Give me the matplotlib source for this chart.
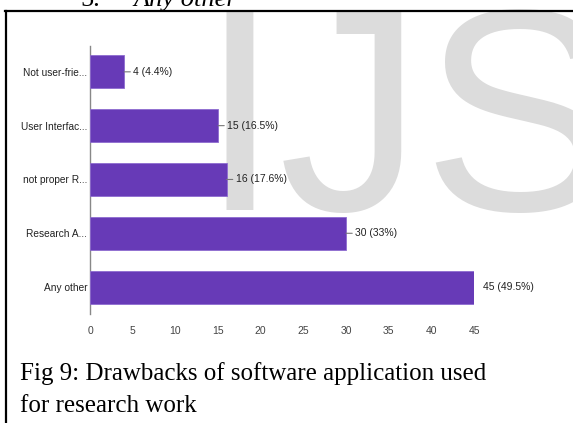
import matplotlib
matplotlib.use("Agg")
import matplotlib.pyplot as plt
from matplotlib.lines import Line2D

categories = ["Not user-frie...", "User Interfac...", "not proper R...", "Research A...", "Any other"]
counts = [4, 15, 16, 30, 45]
pct_labels = ["4 (4.4%)", "15 (16.5%)", "16 (17.6%)", "30 (33%)", "45 (49.5%)"]
xticks = [0, 5, 10, 15, 20, 25, 30, 35, 40, 45]

W, H = 573, 423
fig = plt.figure(figsize=(W / 100, H / 100), dpi=100)
fig.patch.set_facecolor("white")

SANS = ["Liberation Sans", "DejaVu Sans"]
SERIF = ["Liberation Serif", "DejaVu Serif"]

# watermark behind everything
fig.text(200 / W, 1 - 210 / H, "IJSER", fontsize=207, color="#dcdcdc",
         family=SANS, ha="left", va="baseline", zorder=-1)

# page border (left + top)
fig.add_artist(Line2D([5 / W, 1], [1 - 11 / H, 1 - 11 / H], color="black", lw=1.6))
fig.add_artist(Line2D([6 / W, 6 / W], [0, 1 - 11 / H], color="black", lw=1.6))

# clipped line of body text above the figure
fig.text(80 / W, 1 - 6 / H, "5.", fontsize=19, family=SERIF, ha="left", va="baseline")
fig.text(133 / W, 1 - 6 / H, "Any other", fontsize=19, family=SERIF, style="italic",
         ha="left", va="baseline")

ax = fig.add_axes([90 / W, 1 - 314 / H, (474 - 90) / W, (314 - 46) / H], zorder=1)
ax.patch.set_alpha(0)
y = list(range(len(categories)))
ax.barh(y, counts, height=0.61, color="#673ab7", edgecolor="#8e6bd0", lw=0.6, zorder=3)
ax.set_xlim(0, 45)
ax.set_ylim(4.5, -0.48)
ax.set_yticks(y)
ax.set_yticklabels(categories, family=SANS, fontsize=7.3, color="#222222")
ax.set_xticks(xticks)
ax.set_xticklabels([str(t) for t in xticks], family=SANS, fontsize=7.5, color="#444444")
ax.tick_params(length=0, pad=2)
ax.tick_params(axis="x", pad=9)
for s in ["top", "right", "bottom"]:
    ax.spines[s].set_visible(False)
ax.spines["left"].set_color("#888888")
ax.spines["left"].set_linewidth(1)

for i, (v, lab) in enumerate(zip(counts, pct_labels)):
    arrow = None
    if v < 45:
        arrow = dict(arrowstyle="-", color="#777777", lw=0.8, shrinkA=0, shrinkB=0)
    ax.annotate(lab, xy=(v, i), xytext=(9, 0), textcoords="offset pixels",
                ha="left", va="center", fontsize=7.5, family=SANS, color="#222222",
                annotation_clip=False, arrowprops=arrow)

# caption
fig.text(20 / W, 1 - 380 / H, "Fig 9: Drawbacks of software application used",
         fontsize=18, family=SERIF, ha="left", va="baseline")
fig.text(20 / W, 1 - 412 / H, "for research work",
         fontsize=18, family=SERIF, ha="left", va="baseline")

fig.savefig("out.png", dpi=100)
